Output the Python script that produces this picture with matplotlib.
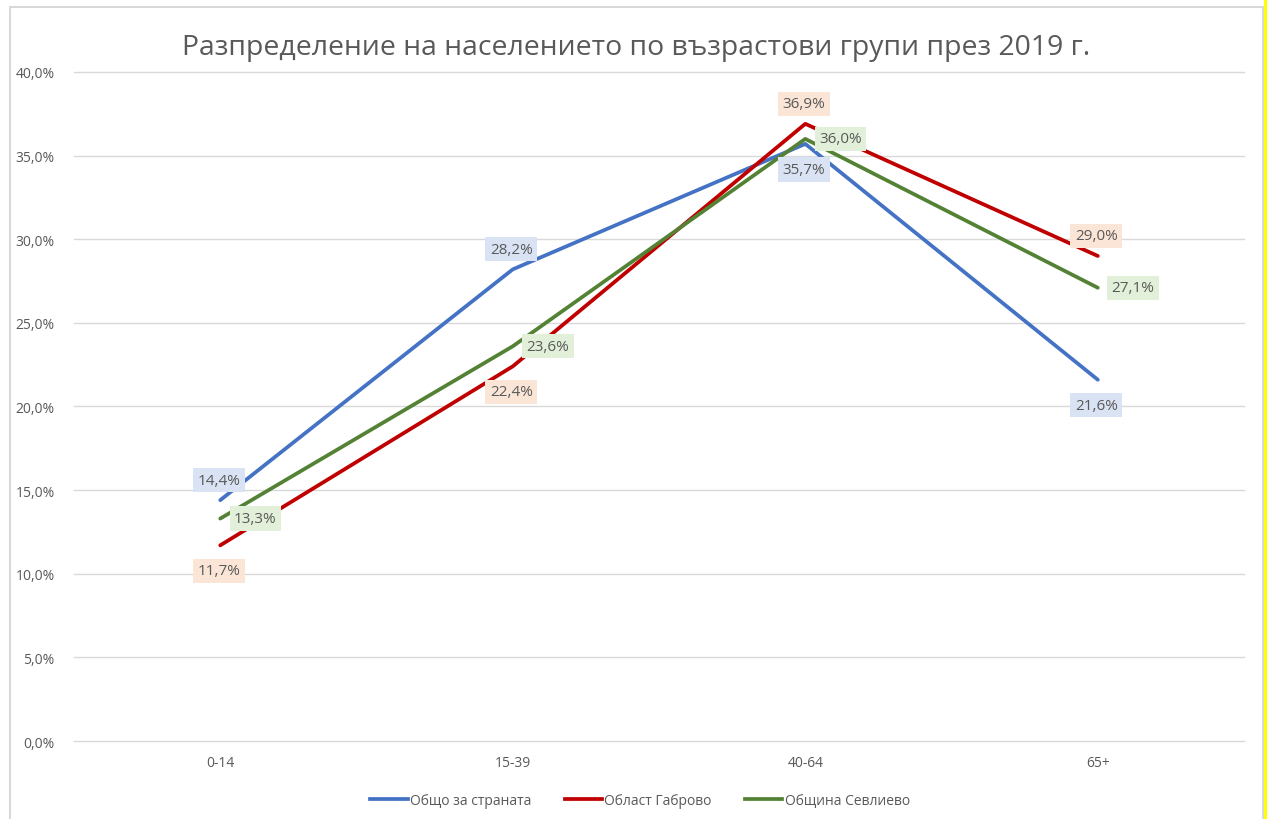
import matplotlib.pyplot as plt
from matplotlib.patches import Rectangle
from matplotlib.lines import Line2D
from matplotlib.ticker import FuncFormatter

plt.rcParams['font.family'] = ['Open Sans', 'DejaVu Sans']

groups = ['0-14', '15-39', '40-64', '65+']
country = [14.4, 28.2, 35.7, 21.6]
gabrovo = [11.7, 22.4, 36.9, 29.0]
sevlievo = [13.3, 23.6, 36.0, 27.1]
names = ['Общо за страната', 'Област Габрово', 'Община Севлиево']

colors = ['#4472C4', '#C00000', '#548235']
boxes = ['#DAE3F3', '#FBE5D6', '#E2F0D9']
# where each series puts its data labels
places = [['above', 'above', 'below', 'below'],
          ['below', 'below', 'above', 'above'],
          ['right', 'right', 'right', 'right']]

grey = '#595959'

fig = plt.figure(figsize=(12.67, 8.2), dpi=100)
ax = fig.add_axes([0.0584, 0.0951, 0.9235, 0.8159])

x = list(range(len(groups)))
for vals, col, box, pl, name in zip([country, gabrovo, sevlievo], colors, boxes, places, names):
    ax.plot(x, vals, color=col, lw=2.7, solid_capstyle='round', label=name, zorder=3)
    for xi, v, p in zip(x, vals, pl):
        lab = f'{v:.1f}%'.replace('.', ',')
        if p == 'above':
            off, ha, va = (-1, 9), 'center', 'bottom'
        elif p == 'below':
            off, ha, va = (-1, -13), 'center', 'top'
        else:
            off, ha, va = (10, 0), 'left', 'center'
        ax.annotate(lab, (xi, v), xytext=off, textcoords='offset points',
                    ha=ha, va=va, fontsize=11, color=grey, zorder=4,
                    bbox=dict(boxstyle='square,pad=0.3', fc=box, ec='none'))

ax.set_xlim(-0.5, 3.5)
ax.set_ylim(0, 40)
ax.set_yticks([0, 5, 10, 15, 20, 25, 30, 35, 40])
ax.yaxis.set_major_formatter(FuncFormatter(lambda v, p: f'{v:.1f}%'.replace('.', ',')))
ax.set_xticks(x)
ax.set_xticklabels(groups)
ax.tick_params(length=0, labelsize=10, colors=grey, pad=10)
ax.tick_params(axis='y', pad=14)
ax.grid(axis='y', color='#D9D9D9', lw=1)
for gl in ax.get_ygridlines():
    gl.set_clip_on(False)
ax.set_axisbelow(True)
for s in ax.spines.values():
    s.set_visible(False)

fig.suptitle('Разпределение на населението по възрастови групи през 2019 г.',
             x=636 / 1267, y=1 - 48 / 820, va='center', fontsize=20.4, color=grey)

handles = [Line2D([], [], color=c, lw=2.7) for c in colors]
fig.legend(handles, names, loc='center', bbox_to_anchor=(640 / 1267, 0.023), ncol=3,
           frameon=False, fontsize=10, labelcolor=grey, handlelength=2.7,
           handletextpad=0.15, columnspacing=2.4)

# outer chart frame and the yellow strip on the right edge
fig.add_artist(Rectangle((10 / 1267, -0.01), 1253 / 1267, 1 - 8 / 820 + 0.01,
                         transform=fig.transFigure, fill=False, ec='#D9D9D9', lw=1.5))
fig.add_artist(Rectangle((1264 / 1267, 0), 3 / 1267, 1,
                         transform=fig.transFigure, fc='#FFFF00', ec='none'))

fig.savefig('out.png', dpi=100)
